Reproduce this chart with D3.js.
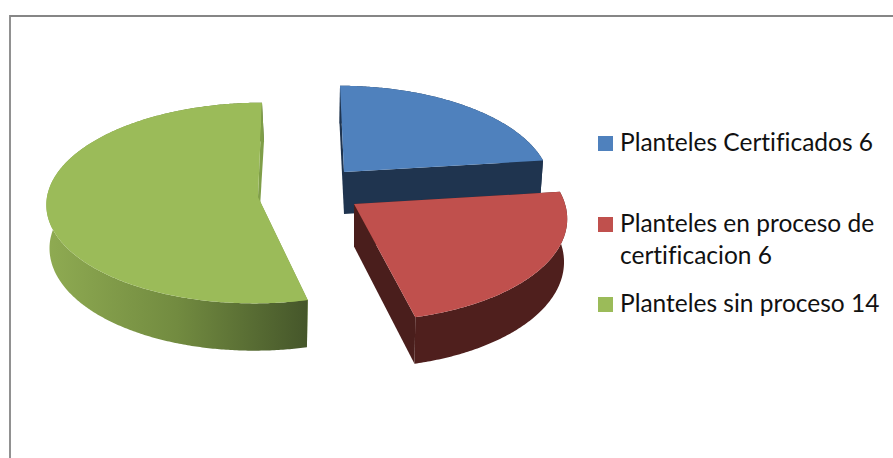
<!DOCTYPE html>
<html>
<head>
<meta charset="utf-8">
<script src="https://cdn.jsdelivr.net/npm/d3@7"></script>
<style>
  html, body { margin: 0; padding: 0; background: #fff; overflow: hidden; }
  text { font-family: Lato, "Open Sans", sans-serif; font-size: 24.5px; fill: #111; font-variant-ligatures: none; }
</style>
</head>
<body>
<div id="chart"></div>
<script>
const categories = ["Planteles Certificados", "Planteles en proceso de certificacion", "Planteles sin proceso"];
const values = [6, 6, 14];
const legendLines = [["Planteles Certificados 6"], ["Planteles en proceso de", "certificacion 6"], ["Planteles sin proceso 14"]];

const topColors = ["#4f81bd", "#c0504d", "#9bbb59"];
const sideColors = ["#1f344f", "#4f1f1d", "url(#greenSide)"];
const faceColors = ["#1f344f", "#4a1e1c", "#7f9e48"];

// each exploded slice sits on its own spot, k is the perspective strength
const layout = [
  { cx: 344, cy: 172, rx: 204, ry: 97, k: 0.125, skew: 4, depth: 42, lean: -0.5 },
  { cx: 354, cy: 204, rx: 211, ry: 102.4, k: 0.125, skew: 4, depth: 42.5, lean: 0 },
  { cx: 258, cy: 197, rx: 211, ry: 100, k: 0.06, skew: -4, depth: 43, lean: 2 }
];
const legendY = [136, 217, 297];

const svg = d3.select("#chart").append("svg")
  .attr("width", 893)
  .attr("height", 458)
  .style("display", "block");

// chart frame, cut off on the right and bottom
svg.append("path")
  .attr("d", "M10,458V16H893")
  .attr("fill", "none")
  .attr("stroke", "#868686")
  .attr("stroke-width", 1.8);

const grad = svg.append("defs").append("linearGradient").attr("id", "greenSide");
grad.append("stop").attr("offset", "0").attr("stop-color", "#8fab52");
grad.append("stop").attr("offset", "0.5").attr("stop-color", "#728b40");
grad.append("stop").attr("offset", "1").attr("stop-color", "#45562a");

const pie = d3.pie().sort(null).startAngle(0).endAngle(2 * Math.PI);
const arcs = pie(values);
const lineGen = d3.line();

function topPoint(s, t) {
  const X = Math.sin(t), Y = -Math.cos(t), w = 1 - s.k * Y;
  return [s.cx + s.rx * X / w + s.skew * Y, s.cy + s.ry * Y / w];
}

function lowPoint(s, t) {
  const X = Math.sin(t), Y = -Math.cos(t), w = 1 - s.k * Y;
  return [
    s.cx + 0.985 * s.rx * X / w + s.skew * Y + s.lean * Math.max(0, -Y),
    s.cy + s.ry * Y / w + s.depth * (1 + 0.1 * Y)
  ];
}

function rim(fn, s, a) {
  const n = Math.ceil((a.endAngle - a.startAngle) / 0.01);
  return d3.range(n + 1).map(i => fn(s, a.startAngle + (a.endAngle - a.startAngle) * i / n));
}

arcs.forEach((a, i) => {
  const s = layout[i];
  const centerTop = [s.cx, s.cy];
  const centerLow = [s.cx, s.cy + s.depth];
  const g = svg.append("g").attr("class", "slice").datum(categories[i]);

  function cutFace(t) {
    g.append("path")
      .attr("d", lineGen([centerTop, topPoint(s, t), lowPoint(s, t), centerLow]) + "Z")
      .attr("fill", faceColors[i]);
  }

  cutFace(a.startAngle);

  // outer wall
  const upper = rim(topPoint, s, a);
  const lower = rim(lowPoint, s, a).reverse();
  g.append("path")
    .attr("d", lineGen(upper.concat(lower)) + "Z")
    .attr("fill", sideColors[i]);

  // end face goes over the wall so the green sliver keeps its own colour
  cutFace(a.endAngle);

  // top surface
  g.append("path")
    .attr("d", lineGen([centerTop].concat(upper)) + "Z")
    .attr("fill", topColors[i]);
});

const legend = svg.selectAll("g.legend").data(categories).join("g").attr("class", "legend");
legend.append("rect")
  .attr("x", 598)
  .attr("y", (d, i) => legendY[i])
  .attr("width", 15)
  .attr("height", 15)
  .attr("fill", (d, i) => topColors[i]);
legend.each(function (d, i) {
  legendLines[i].forEach((line, j) => {
    d3.select(this).append("text")
      .attr("x", 620)
      .attr("y", legendY[i] + 15 + j * 31.5)
      .text(line);
  });
});
</script>
</body>
</html>
